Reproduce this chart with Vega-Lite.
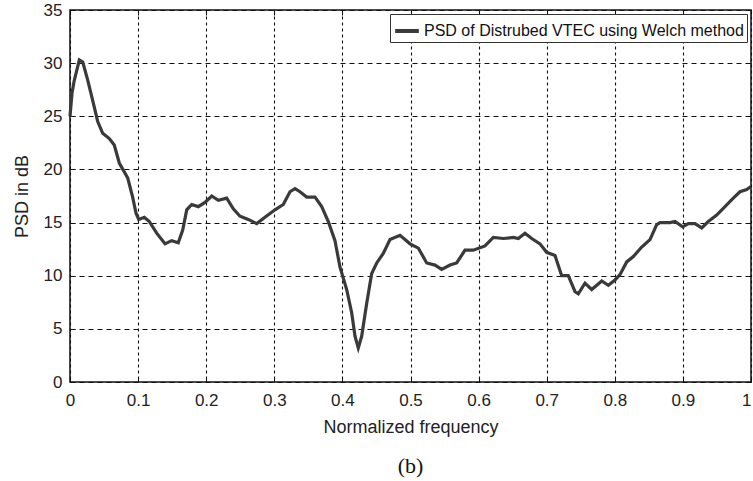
{
  "$schema": "https://vega.github.io/schema/vega-lite/v6.json",
  "autosize": {"type": "none"},
  "width": 681,
  "height": 372,
  "padding": {"left": 70, "top": 10, "right": 2, "bottom": 99},
  "background": "white",
  "title": {"text": "(b)", "orient": "bottom", "anchor": "middle", "font": "Liberation Serif", "fontSize": 22, "fontWeight": "normal", "color": "#111", "offset": 20},
  "config": {
    "view": {"stroke": "#111", "strokeWidth": 1.5},
    "axis": {"labelFont": "Arial", "labelFontSize": 17, "labelColor": "#222", "titleFont": "Arial", "titleFontSize": 18, "titleFontWeight": "normal", "titleColor": "#222", "domain": false, "tickColor": "#111", "gridColor": "#111", "gridOpacity": 1, "gridWidth": 1.1}
  },
  "data": {"values": [
    {"f": 0.0, "psd": 25.0},
    {"f": 0.003, "psd": 27.2},
    {"f": 0.006, "psd": 28.3},
    {"f": 0.0137, "psd": 30.3},
    {"f": 0.0187, "psd": 30.1},
    {"f": 0.026, "psd": 28.4},
    {"f": 0.0333, "psd": 26.5},
    {"f": 0.0407, "psd": 24.5},
    {"f": 0.048, "psd": 23.4},
    {"f": 0.0577, "psd": 22.9},
    {"f": 0.065, "psd": 22.3},
    {"f": 0.0724, "psd": 20.6},
    {"f": 0.0847, "psd": 19.2},
    {"f": 0.092, "psd": 17.4},
    {"f": 0.0969, "psd": 15.9},
    {"f": 0.1009, "psd": 15.3},
    {"f": 0.1091, "psd": 15.5},
    {"f": 0.1164, "psd": 15.1},
    {"f": 0.1273, "psd": 14.0},
    {"f": 0.1395, "psd": 13.0},
    {"f": 0.1493, "psd": 13.3},
    {"f": 0.159, "psd": 13.1},
    {"f": 0.1655, "psd": 14.3},
    {"f": 0.1714, "psd": 16.2},
    {"f": 0.1787, "psd": 16.7},
    {"f": 0.1884, "psd": 16.5},
    {"f": 0.1982, "psd": 16.9},
    {"f": 0.2081, "psd": 17.5},
    {"f": 0.2178, "psd": 17.1},
    {"f": 0.2301, "psd": 17.3},
    {"f": 0.2398, "psd": 16.3},
    {"f": 0.2496, "psd": 15.6},
    {"f": 0.2618, "psd": 15.3},
    {"f": 0.2742, "psd": 14.9},
    {"f": 0.2863, "psd": 15.5},
    {"f": 0.301, "psd": 16.2},
    {"f": 0.3132, "psd": 16.7},
    {"f": 0.323, "psd": 17.9},
    {"f": 0.3304, "psd": 18.2},
    {"f": 0.3377, "psd": 17.9},
    {"f": 0.3476, "psd": 17.4},
    {"f": 0.3598, "psd": 17.4},
    {"f": 0.3696, "psd": 16.5},
    {"f": 0.3793, "psd": 15.1},
    {"f": 0.3891, "psd": 13.3},
    {"f": 0.3965, "psd": 10.8},
    {"f": 0.4063, "psd": 8.7},
    {"f": 0.4137, "psd": 6.5},
    {"f": 0.4185, "psd": 4.3},
    {"f": 0.4233, "psd": 3.2},
    {"f": 0.4283, "psd": 4.3},
    {"f": 0.4357, "psd": 7.4},
    {"f": 0.443, "psd": 10.2},
    {"f": 0.4504, "psd": 11.2},
    {"f": 0.46, "psd": 12.1},
    {"f": 0.4699, "psd": 13.4},
    {"f": 0.4846, "psd": 13.8},
    {"f": 0.4993, "psd": 13.0},
    {"f": 0.5115, "psd": 12.6},
    {"f": 0.5238, "psd": 11.2},
    {"f": 0.536, "psd": 11.0},
    {"f": 0.5458, "psd": 10.6},
    {"f": 0.558, "psd": 11.0},
    {"f": 0.5678, "psd": 11.2},
    {"f": 0.58, "psd": 12.4},
    {"f": 0.5922, "psd": 12.4},
    {"f": 0.6094, "psd": 12.8},
    {"f": 0.6216, "psd": 13.6},
    {"f": 0.6363, "psd": 13.5},
    {"f": 0.651, "psd": 13.6},
    {"f": 0.6583, "psd": 13.5},
    {"f": 0.6681, "psd": 14.0},
    {"f": 0.678, "psd": 13.5},
    {"f": 0.6902, "psd": 13.0},
    {"f": 0.6999, "psd": 12.2},
    {"f": 0.7122, "psd": 11.9},
    {"f": 0.722, "psd": 10.0},
    {"f": 0.7317, "psd": 10.0},
    {"f": 0.7416, "psd": 8.5},
    {"f": 0.7464, "psd": 8.3},
    {"f": 0.7562, "psd": 9.3},
    {"f": 0.7661, "psd": 8.7},
    {"f": 0.7808, "psd": 9.5},
    {"f": 0.7905, "psd": 9.1},
    {"f": 0.8003, "psd": 9.6},
    {"f": 0.8076, "psd": 10.1},
    {"f": 0.8175, "psd": 11.3},
    {"f": 0.8272, "psd": 11.8},
    {"f": 0.8395, "psd": 12.7},
    {"f": 0.8517, "psd": 13.4},
    {"f": 0.8615, "psd": 14.8},
    {"f": 0.8664, "psd": 15.0},
    {"f": 0.881, "psd": 15.0},
    {"f": 0.8884, "psd": 15.1},
    {"f": 0.8997, "psd": 14.6},
    {"f": 0.9079, "psd": 14.9},
    {"f": 0.9178, "psd": 14.9},
    {"f": 0.9276, "psd": 14.5},
    {"f": 0.9373, "psd": 15.1},
    {"f": 0.9496, "psd": 15.7},
    {"f": 0.9618, "psd": 16.5},
    {"f": 0.974, "psd": 17.3},
    {"f": 0.9838, "psd": 17.9},
    {"f": 0.9937, "psd": 18.1},
    {"f": 1.0, "psd": 18.4}
  ]},
  "layer": [
    {
      "mark": {"type": "line", "strokeWidth": 3.2, "interpolate": "linear"},
      "encoding": {
        "x": {"field": "f", "type": "quantitative", "scale": {"domain": [0, 1], "nice": false},
              "axis": {"values": [0, 0.1, 0.2, 0.3, 0.4, 0.5, 0.6, 0.7, 0.8, 0.9, 1], "format": ".1~f", "title": "Normalized frequency", "tickSize": -5, "labelPadding": 15, "titlePadding": 10, "labelFlush": false, "labelOverlap": false,
                       "labelAlign": {"expr": "datum.value == 1 ? 'right' : 'center'"}, "labelDx": {"expr": "datum.value == 1 ? 2 : 0"}, "gridDash": [3, 3]}},
        "y": {"field": "psd", "type": "quantitative", "scale": {"domain": [0, 35], "nice": false},
              "axis": {"values": [0, 5, 10, 15, 20, 25, 30, 35], "title": "PSD in dB", "tickSize": -5, "labelPadding": 13, "titlePadding": 12, "labelFlush": false, "labelOverlap": false, "gridDash": [5, 4]}},
        "color": {"datum": "PSD of Distrubed VTEC using Welch method", "type": "nominal",
                  "scale": {"range": ["#3a3a3a"]},
                  "legend": {"title": null, "orient": "top-right", "offset": 4, "fillColor": "white", "strokeColor": "#333", "padding": 3, "symbolType": "stroke", "symbolStrokeWidth": 4, "symbolSize": 560, "labelOffset": 3, "labelFont": "Arial", "labelFontSize": 16, "labelColor": "#111", "labelLimit": 500, "rowPadding": 0}}
      }
    },
    {
      "mark": {"type": "line", "opacity": 0},
      "encoding": {
        "x": {"field": "f", "type": "quantitative", "axis": {"orient": "top", "values": [0, 0.1, 0.2, 0.3, 0.4, 0.5, 0.6, 0.7, 0.8, 0.9, 1], "labels": false, "grid": false, "tickSize": -5, "title": null}},
        "y": {"field": "psd", "type": "quantitative", "axis": {"orient": "right", "values": [0, 5, 10, 15, 20, 25, 30, 35], "labels": false, "grid": false, "tickSize": -5, "title": null}}
      }
    }
  ],
  "resolve": {"axis": {"x": "independent", "y": "independent"}}
}
